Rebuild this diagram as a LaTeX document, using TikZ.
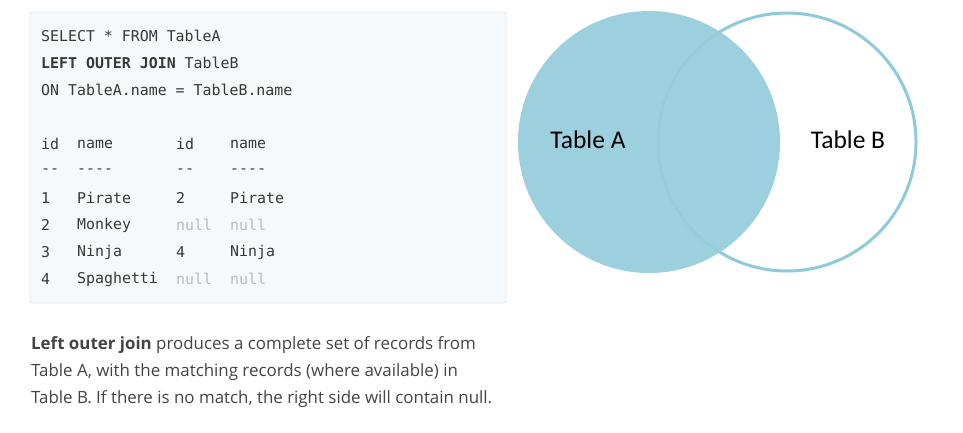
\documentclass[tikz,border=0pt]{standalone}
\usepackage{fontspec}
\setmainfont{Open Sans}
\newfontfamily\codefont{DejaVu Sans Mono}
\newfontfamily\venfont{Carlito}
\definecolor{boxfill}{HTML}{F6F9FB}
\definecolor{boxline}{HTML}{DFE8EE}
\definecolor{codetext}{HTML}{383838}
\definecolor{nulltext}{HTML}{BBBBBB}
\definecolor{bodytext}{HTML}{444444}
\definecolor{venfill}{HTML}{96CDDC}
\definecolor{venline}{HTML}{8ECAD9}
\begin{document}
\begin{tikzpicture}[x=1pt,y=-1pt,
  code/.style={anchor=west,inner sep=0pt,font=\codefont\fontsize{14.9}{18}\selectfont,text=codetext},
  nul/.style={code,text=nulltext},
  para/.style={anchor=west,inner sep=0pt,font=\fontsize{16.9}{20}\selectfont,text=bodytext},
  venlabel/.style={inner sep=0pt,font=\venfont\fontsize{25.5}{30}\selectfont,text=black}]
\useasboundingbox[fill=white] (0,0) rectangle (963,432);
% code box
\node (box) [draw=boxline,fill=boxfill,line width=0.8pt,rounded corners=2pt,minimum width=476pt,minimum height=291pt,inner sep=0pt] at (268,157.5) {};
\node (l1) [code] at (41,36) {SELECT * FROM TableA};
\node (l2) [code] at (41,63) {\textbf{LEFT OUTER JOIN} TableB};
\node (l3) [code] at (41,90) {ON TableA.name = TableB.name};
\node (h1) [code] at (41,144) {id};
\node (h2) [code] at (77,144) {name};
\node (h3) [code] at (176,144) {id};
\node (h4) [code] at (230,144) {name};
\node (d1) [code] at (41,171) {--};
\node (d2) [code] at (77,171) {----};
\node (d3) [code] at (176,171) {--};
\node (d4) [code] at (230,171) {----};
\node (r1a) [code] at (41,198) {1};
\node (r1b) [code] at (77,198) {Pirate};
\node (r1c) [code] at (176,198) {2};
\node (r1d) [code] at (230,198) {Pirate};
\node (r2a) [code] at (41,225) {2};
\node (r2b) [code] at (77,225) {Monkey};
\node (r2c) [nul] at (176,225) {null};
\node (r2d) [nul] at (230,225) {null};
\node (r3a) [code] at (41,252) {3};
\node (r3b) [code] at (77,252) {Ninja};
\node (r3c) [code] at (176,252) {4};
\node (r3d) [code] at (230,252) {Ninja};
\node (r4a) [code] at (41,279) {4};
\node (r4b) [code] at (77,279) {Spaghetti};
\node (r4c) [nul] at (176,279) {null};
\node (r4d) [nul] at (230,279) {null};
% paragraph
\node (p1) [para] at (31,345) {\textbf{Left outer join} produces a complete set of records from};
\node (p2) [para] at (31,372) {Table A, with the matching records (where available) in};
\node (p3) [para] at (31,399) {Table B. If there is no match, the right side will contain null.};
% venn
\node (cb) [circle,draw=venline,line width=3pt,fill=white,minimum size=258pt,inner sep=0pt] at (787,142) {};
\node (ca) [circle,fill=venfill,fill opacity=0.93,minimum size=262pt,inner sep=0pt] at (649,142) {};
\node (ta) [venlabel] at (588,140) {Table A};
\node (tb) [venlabel] at (848,140) {Table B};
\end{tikzpicture}
\end{document}
